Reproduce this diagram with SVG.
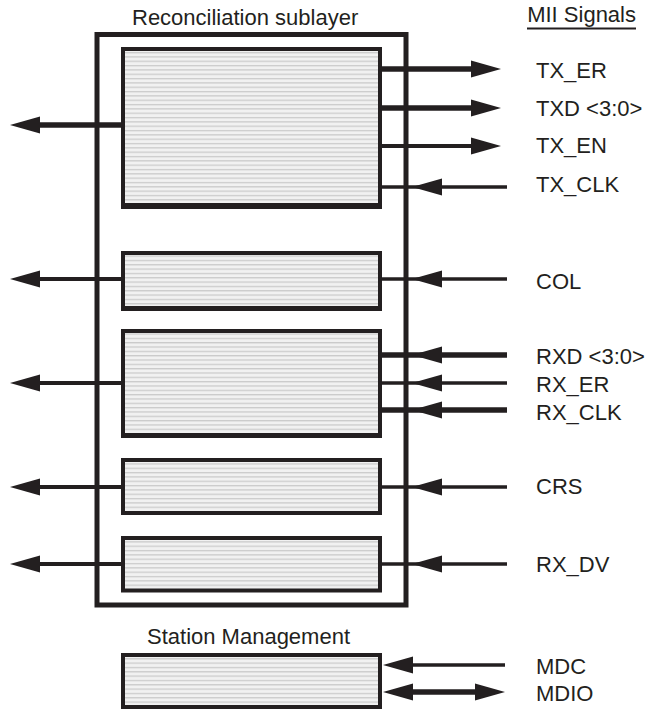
<svg xmlns="http://www.w3.org/2000/svg" width="648" height="710" viewBox="0 0 648 710">
<defs>
<pattern id="hatch" patternUnits="userSpaceOnUse" width="8" height="4.33">
<rect width="8" height="4.33" fill="#f1f1f1"/>
<rect y="0" width="8" height="1.3" fill="#cbcbcb"/>
</pattern>
<path id="ahL" d="M0,0 L30,-8.5 L30,8.5 Z"/>
<path id="ahR" d="M0,0 L-30,-8.5 L-30,8.5 Z"/>
</defs>
<style>
.lbl{font-family:"Liberation Sans",Arial,sans-serif;font-size:22px;fill:#231f20}
.box{fill:url(#hatch);stroke:#231f20;stroke-width:4}
.frame{fill:none;stroke:#231f20;stroke-width:5}
.ln{stroke:#231f20;fill:none}
.thick{stroke-width:5.5}
.mid{stroke-width:4}
.thin{stroke-width:3.5}
.head{fill:#231f20}
</style>

<g id="reconciliation">
<rect class="frame" x="97" y="34.5" width="309" height="570.5"/>
<text class="lbl" x="132" y="25">Reconciliation sublayer</text>
</g>

<g id="tx-block">
<rect class="box" x="123" y="49" width="257" height="156"/>
<line class="ln" x1="121" y1="206" x2="382" y2="206" stroke-width="6"/>
</g>
<g id="col-block">
<rect class="box" x="123" y="253" width="257" height="55"/>
<line class="ln" x1="121" y1="308.5" x2="382" y2="308.5" stroke-width="5"/>
</g>
<g id="rx-block">
<rect class="box" x="123" y="331" width="257" height="104"/>
<line class="ln" x1="121" y1="435.5" x2="382" y2="435.5" stroke-width="5"/>
</g>
<g id="crs-block">
<rect class="box" x="123" y="460" width="257" height="53" stroke-width="3.5"/>
</g>
<g id="rxdv-block">
<rect class="box" x="123" y="538" width="257" height="52.5"/>
</g>
<g id="station-management">
<rect class="box" x="123" y="655" width="257" height="52"/>
<text class="lbl" x="147" y="644">Station Management</text>
</g>

<g id="mii-signals">
<text class="lbl" x="636" y="22" text-anchor="end">MII Signals</text>
<line class="ln" x1="527" y1="28.5" x2="636" y2="28.5" stroke-width="2"/>
<text class="lbl" x="536" y="78">TX_ER</text>
<text class="lbl" x="536" y="116">TXD &lt;3:0&gt;</text>
<text class="lbl" x="536" y="153">TX_EN</text>
<text class="lbl" x="536" y="192">TX_CLK</text>
<text class="lbl" x="536" y="289">COL</text>
<text class="lbl" x="536" y="364">RXD &lt;3:0&gt;</text>
<text class="lbl" x="536" y="392">RX_ER</text>
<text class="lbl" x="536" y="420">RX_CLK</text>
<text class="lbl" x="536" y="494">CRS</text>
<text class="lbl" x="536" y="572">RX_DV</text>
<text class="lbl" x="536" y="674">MDC</text>
<text class="lbl" x="536" y="701">MDIO</text>
</g>

<g id="connectors">
<!-- left outputs -->
<line class="ln thick" x1="123" y1="125" x2="36" y2="125"/>
<use href="#ahL" class="head" x="10" y="125"/>
<line class="ln mid" x1="123" y1="279" x2="36" y2="279"/>
<use href="#ahL" class="head" x="10" y="279"/>
<line class="ln mid" x1="123" y1="383" x2="36" y2="383"/>
<use href="#ahL" class="head" x="10" y="383"/>
<line class="ln mid" x1="123" y1="487" x2="36" y2="487"/>
<use href="#ahL" class="head" x="10" y="487"/>
<line class="ln mid" x1="123" y1="564" x2="36" y2="564"/>
<use href="#ahL" class="head" x="10" y="564"/>
<!-- TX outputs -->
<line class="ln thick" x1="380" y1="69" x2="475" y2="69"/>
<use href="#ahR" class="head" x="501" y="69"/>
<line class="ln thick" x1="380" y1="108" x2="475" y2="108"/>
<use href="#ahR" class="head" x="501" y="108"/>
<line class="ln mid" x1="380" y1="146" x2="475" y2="146"/>
<use href="#ahR" class="head" x="501" y="146"/>
<!-- inputs -->
<line class="ln thin" x1="507" y1="187" x2="380" y2="187"/>
<use href="#ahL" class="head" x="412" y="187"/>
<line class="ln thin" x1="507" y1="279" x2="380" y2="279"/>
<use href="#ahL" class="head" x="412" y="279"/>
<line class="ln thick" x1="507" y1="355" x2="380" y2="355"/>
<use href="#ahL" class="head" x="412" y="355"/>
<line class="ln thin" x1="507" y1="383" x2="380" y2="383"/>
<use href="#ahL" class="head" x="412" y="383"/>
<line class="ln thick" x1="507" y1="410" x2="380" y2="410"/>
<use href="#ahL" class="head" x="412" y="410"/>
<line class="ln thin" x1="507" y1="487" x2="380" y2="487"/>
<use href="#ahL" class="head" x="412" y="487"/>
<line class="ln thin" x1="507" y1="564" x2="380" y2="564"/>
<use href="#ahL" class="head" x="412" y="564"/>
<!-- management -->
<line class="ln thin" x1="505" y1="665" x2="400" y2="665"/>
<use href="#ahL" class="head" x="383" y="665"/>
<line class="ln thick" x1="400" y1="692" x2="480" y2="692"/>
<use href="#ahL" class="head" x="383" y="692"/>
<use href="#ahR" class="head" x="505" y="692"/>
</g>
</svg>
